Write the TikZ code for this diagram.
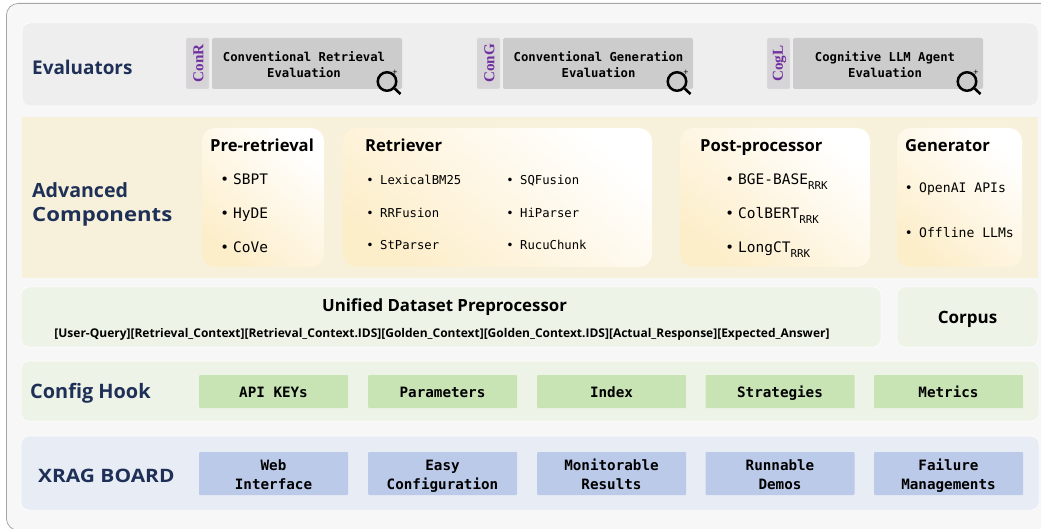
\documentclass[tikz,border=0pt]{standalone}
\usepackage{fontspec}
\setmainfont{Open Sans}
\setmonofont{DejaVu Sans Mono}
\newfontfamily\tagfont{Liberation Serif}
\newfontfamily\widefont[FakeStretch=1.13]{Open Sans}
\usetikzlibrary{shadings}
\definecolor{navytext}{HTML}{1F3057}
\definecolor{tagpurple}{HTML}{7030A0}
\definecolor{evalband}{HTML}{EEEEEF}
\definecolor{evalbox}{HTML}{CDCCCD}
\definecolor{evaltag}{HTML}{D6D4D7}
\definecolor{compband}{HTML}{F7F0DA}
\definecolor{cardtan}{HTML}{FDEECA}
\definecolor{greenband}{HTML}{EEF3E8}
\definecolor{greenbox}{HTML}{C9E4B4}
\definecolor{blueband}{HTML}{E8ECF5}
\definecolor{bluebox}{HTML}{BCCAE9}
\newcommand{\rrk}{\raisebox{-5pt}{\fontsize{10.8}{12}\selectfont RRK}}
\tikzset{
	outerbox/.style={draw=black!35, fill=black!3, line width=0.8pt, rounded corners=12pt, inner sep=0pt},
	band/.style={draw=white, line width=0.5pt, rounded corners=8pt, inner sep=0pt},
	card/.style={rounded corners=13pt, inner sep=0pt, top color=white, bottom color=cardtan, shading angle=-40},
	bandtitle/.style={anchor=base west, inner sep=0pt, text=navytext, font=\fontsize{18.9}{24}\selectfont\bfseries},
	cardtitle/.style={anchor=base west, inner sep=0pt, text=black, font=\fontsize{16.6}{20}\selectfont\bfseries},
	evalmain/.style={fill=evalbox, rounded corners=2pt, inner sep=0pt, minimum width=190pt, minimum height=51pt},
	evaltext/.style={inner sep=0pt, align=center, text height=25pt, text depth=0pt, font=\fontsize{12.25}{16}\selectfont\ttfamily\bfseries},
	evaltagbox/.style={fill=evaltag, draw=black!8, rounded corners=1pt, inner sep=0pt, minimum width=23pt, minimum height=51pt},
	taglabel/.style={rotate=90, inner sep=0pt, text=tagpurple, font=\fontsize{15.2}{16}\selectfont\tagfont\bfseries},
	lens/.style={circle, draw=black, line width=2.5pt, inner sep=0pt, minimum size=18.5pt},
	lenshandle/.style={draw=black, line width=2.6pt},
	plussign/.style={inner sep=0pt, font=\fontsize{9}{9}\selectfont},
	item/.style={anchor=base west, inner sep=0pt, execute at begin node={\llap{•\hspace{#1}}}},
	itembig/.style={item=4pt, font=\fontsize{14.5}{16}\selectfont\ttfamily},
	itemsmall/.style={item=6.5pt, font=\fontsize{12.25}{14}\selectfont\ttfamily},
	itemgen/.style={item=6.5pt, font=\fontsize{13.1}{15}\selectfont\ttfamily},
	greencell/.style={fill=greenbox, rounded corners=1pt, inner sep=0pt, minimum width=149pt, minimum height=33pt, text height=11.6pt, text depth=0pt, font=\fontsize{14.25}{19}\selectfont\ttfamily\bfseries},
	bluecell/.style={fill=bluebox, rounded corners=1pt, inner sep=0pt, minimum width=149pt, minimum height=43pt, align=center, text height=32pt, text depth=0pt, font=\fontsize{14.25}{19}\selectfont\ttfamily\bfseries},
}
\begin{document}
\begin{tikzpicture}[x=1pt, y=-1pt]
	\useasboundingbox (0,0) rectangle (1041,529);

	% Frame round everything
	\node[outerbox, minimum width=1100pt, minimum height=527pt, anchor=north west] (frame) at (6,3) {};

	% Bands
	\node[band, fill=evalband, minimum width=1016pt, minimum height=83pt] (evalband) at (530,64.5) {};
	\node[band, fill=compband, rounded corners=0pt, draw=none, minimum width=1016pt, minimum height=161pt] (compband) at (530,197.5) {};
	\node[band, fill=greenband, minimum width=860pt, minimum height=60pt] (databand) at (451,317) {};
	\node[band, fill=greenband, minimum width=141pt, minimum height=60pt] (corpusband) at (967.5,317) {};
	\node[band, fill=greenband, minimum width=1018pt, minimum height=60pt] (hookband) at (530,391) {};
	\node[band, fill=blueband, minimum width=1018pt, minimum height=74pt] (boardband) at (530,473) {};

	% Band titles
	\node[bandtitle] (evaltitle) at (32,74.5) {Evaluators};
	\node[bandtitle, align=left, font=\fontsize{19.6}{24}\selectfont\bfseries] (comptitle) at (32,222) {Advanced\\{\widefont Components}};
	\node[bandtitle, font=\fontsize{19.9}{24}\selectfont\bfseries] (hooktitle) at (30,398) {Config Hook};
	\node[bandtitle, font=\fontsize{18.5}{24}\selectfont\widefont\bfseries] (boardtitle) at (38,482) {XRAG BOARD};

	% Evaluators
	\node[evaltagbox] (conr) at (197.5,63.5) {};
	\node[taglabel] (conrlabel) at (198.5,63.5) {ConR};
	\node[evalmain] (evalr) at (307,63.5) {};
	\node[evaltext] (evalrtext) at (304,65.5) {Conventional Retrieval\\Evaluation};
	\node[evaltagbox] (cong) at (488.5,63.5) {};
	\node[taglabel] (conglabel) at (489.5,63.5) {ConG};
	\node[evalmain] (evalg) at (598,63.5) {};
	\node[evaltext] (evalgtext) at (598.5,65.5) {Conventional Generation\\Evaluation};
	\node[evaltagbox] (cogl) at (778.5,63.5) {};
	\node[taglabel] (cogllabel) at (779.5,63.5) {CogL};
	\node[evalmain] (evall) at (888,63.5) {};
	\node[evaltext] (evalltext) at (885,65.5) {Cognitive LLM Agent\\Evaluation};

	% Magnifiers
	\node[lens] (lensr) at (387,81.5) {};
	\coordinate (tipr) at (400.5,94);
	\draw[lenshandle] (lensr) -- (tipr);
	\node[plussign] (plusr) at (395,72.5) {+};
	\node[lens] (lensg) at (677,81.5) {};
	\coordinate (tipg) at (690.5,94);
	\draw[lenshandle] (lensg) -- (tipg);
	\node[plussign] (plusg) at (686,72.5) {+};
	\node[lens] (lensl) at (967,81.5) {};
	\coordinate (tipl) at (980.5,94);
	\draw[lenshandle] (lensl) -- (tipl);
	\node[plussign] (plusl) at (976,72.5) {+};

	% Component cards
	\node[card, minimum width=122pt, minimum height=139pt] (precard) at (263,197.5) {};
	\node[card, minimum width=309pt, minimum height=139pt] (retcard) at (497.5,197.5) {};
	\node[card, minimum width=190pt, minimum height=139pt] (postcard) at (775,197.5) {};
	\node[card, minimum width=125pt, minimum height=139pt] (gencard) at (959.5,197.5) {};

	% Card titles
	\node[cardtitle] (pretitle) at (210,152) {Pre-retrieval};
	\node[cardtitle] (rettitle) at (365,152) {Retriever};
	\node[cardtitle] (posttitle) at (700,152) {Post-processor};
	\node[cardtitle] (gentitle) at (905,152) {Generator};

	% Card items
	\node[itembig] (sbpt) at (233,185) {SBPT};
	\node[itembig] (hyde) at (233,218.7) {HyDE};
	\node[itembig] (cove) at (233,252.7) {CoVe};
	\node[itemsmall] (lexical) at (380,184.3) {LexicalBM25};
	\node[itemsmall] (rrfusion) at (380,217.5) {RRFusion};
	\node[itemsmall] (stparser) at (380,249.5) {StParser};
	\node[itemsmall] (sqfusion) at (520,184.3) {SQFusion};
	\node[itemsmall] (hiparser) at (520,217.5) {HiParser};
	\node[itemsmall] (rucu) at (520,249.5) {RucuChunk};
	\node[itembig] (bge) at (738,185) {BGE-BASE\rrk};
	\node[itembig] (colbert) at (738,218.7) {ColBERT\rrk};
	\node[itembig] (longct) at (738,252.7) {LongCT\rrk};
	\node[itemgen] (openai) at (919,192.7) {OpenAI APIs};
	\node[itemgen] (offline) at (919,237.7) {Offline LLMs};

	% Dataset preprocessor
	\node[cardtitle, anchor=base, font=\fontsize{16.8}{20}\selectfont\bfseries] (datatitle) at (444.5,311.5) {Unified Dataset Preprocessor};
	\node[anchor=base, inner sep=0pt, font=\fontsize{12}{14}\selectfont\bfseries] (datafields) at (442,337.5) {[User-Query][Retrieval\_Context][Retrieval\_Context.IDS][Golden\_Context][Golden\_Context.IDS][Actual\_Response][Expected\_Answer]};
	\node[cardtitle, anchor=base, font=\fontsize{17}{20}\selectfont\bfseries] (corpus) at (967.5,323.7) {Corpus};

	% Config hook cells
	\node[greencell] (apikeys) at (273.5,391.5) {API KEYs};
	\node[greencell] (params) at (442.5,391.5) {Parameters};
	\node[greencell] (index) at (611.5,391.5) {Index};
	\node[greencell] (strategies) at (780,391.5) {Strategies};
	\node[greencell] (metrics) at (948.5,391.5) {Metrics};

	% Board cells
	\node[bluecell] (web) at (273.5,473.5) {Web\\Interface};
	\node[bluecell] (easy) at (442.5,473.5) {Easy\\Configuration};
	\node[bluecell] (monitor) at (611.5,473.5) {Monitorable\\Results};
	\node[bluecell] (demos) at (780,473.5) {Runnable\\Demos};
	\node[bluecell] (failure) at (948.5,473.5) {Failure\\Managements};
\end{tikzpicture}
\end{document}
